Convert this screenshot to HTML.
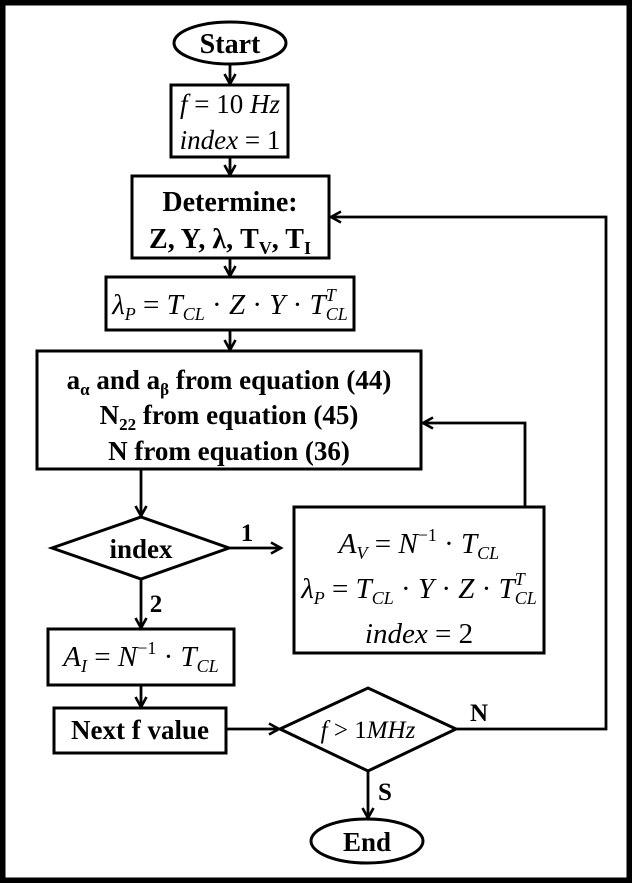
<!DOCTYPE html>
<html><head><meta charset="utf-8"><style>
html,body{margin:0;padding:0;background:#fff}
svg{display:block}
text{font-family:"Liberation Serif",serif;fill:#000}
.b{font-weight:bold}
.i{font-style:italic}
</style></head><body>
<svg width="632" height="883" viewBox="0 0 632 883" xmlns="http://www.w3.org/2000/svg">
<defs><marker id="a" markerWidth="14" markerHeight="14" refX="11" refY="7" orient="auto" markerUnits="userSpaceOnUse"><path d="M1,1.5 L11,7 L1,12.5" fill="none" stroke="#000" stroke-width="2.6"/></marker></defs>
<rect x="2.5" y="2.5" width="627" height="878" fill="#fff" stroke="#000" stroke-width="6"/>
<g fill="none" stroke="#000" stroke-width="3">
<ellipse cx="230" cy="43" rx="56" ry="21"/>
<rect x="171" y="85" width="117" height="72"/>
<rect x="132" y="176" width="197" height="82"/>
<rect x="106" y="277" width="248" height="53"/>
<rect x="37" y="351" width="384" height="118"/>
<polygon points="52,548 141,517 229,548 141,579"/>
<rect x="294" y="507" width="250" height="146"/>
<rect x="48" y="629" width="186" height="56"/>
<rect x="54" y="708" width="172" height="45"/>
<polygon points="280,729 368,688 456,729 368,771"/>
<ellipse cx="367" cy="841" rx="56" ry="22"/>
</g>
<g fill="none" stroke="#000" stroke-width="2.8">
<line x1="230" y1="64" x2="230" y2="84" marker-end="url(#a)"/>
<line x1="230" y1="157" x2="230" y2="175" marker-end="url(#a)"/>
<line x1="230" y1="258" x2="230" y2="276" marker-end="url(#a)"/>
<line x1="230" y1="330" x2="230" y2="350" marker-end="url(#a)"/>
<line x1="141" y1="469" x2="141" y2="516" marker-end="url(#a)"/>
<line x1="229" y1="548" x2="281" y2="548" marker-end="url(#a)"/>
<line x1="141" y1="579" x2="141" y2="628" marker-end="url(#a)"/>
<line x1="141" y1="685" x2="141" y2="707" marker-end="url(#a)"/>
<line x1="226" y1="729" x2="279" y2="729" marker-end="url(#a)"/>
<line x1="368" y1="771" x2="368" y2="818" marker-end="url(#a)"/>
<polyline points="456,729 606,729 606,217 331,217" marker-end="url(#a)"/>
<polyline points="525,507 525,423 423,423" marker-end="url(#a)"/>
</g>
<text class="b" x="230" y="53" font-size="28" text-anchor="middle">Start</text>
<text class="i" x="230" y="113" font-size="27" text-anchor="middle">f <tspan font-style="normal">= 10</tspan> Hz</text>
<text class="i" x="230" y="149" font-size="27" text-anchor="middle">index <tspan font-style="normal">= 1</tspan></text>
<text class="b" x="230" y="211" font-size="28" text-anchor="middle">Determine:</text>
<text class="b" x="230" y="248" font-size="28" text-anchor="middle">Z, Y, λ, T<tspan font-size="18" dy="6">V</tspan><tspan dy="-6">, T</tspan><tspan font-size="18" dy="6">I</tspan></text>
<text class="i" x="230" y="314" font-size="29" text-anchor="middle">λ<tspan font-size="18" dy="6">P</tspan><tspan dy="-6" font-style="normal"> = </tspan>T<tspan font-size="18" dy="6">CL</tspan><tspan dy="-6" font-style="normal"> · </tspan>Z<tspan font-style="normal"> · </tspan>Y<tspan font-style="normal"> · </tspan>T<tspan font-size="18" dy="-13">T</tspan><tspan font-size="18" dx="-10" dy="19">CL</tspan></text>
<text class="b" x="229" y="389" font-size="27" text-anchor="middle">a<tspan font-size="17" dy="6">α</tspan><tspan dy="-6"> and a</tspan><tspan font-size="17" dy="6">β</tspan><tspan dy="-6"> from equation (44)</tspan></text>
<text class="b" x="229" y="424" font-size="27" text-anchor="middle">N<tspan font-size="17" dy="6">22</tspan><tspan dy="-6"> from equation (45)</tspan></text>
<text class="b" x="229" y="460" font-size="27" text-anchor="middle">N from equation (36)</text>
<text class="b" x="141" y="558" font-size="27" text-anchor="middle">index</text>
<text class="b" x="247" y="541" font-size="25" text-anchor="middle">1</text>
<text class="b" x="156" y="612" font-size="25" text-anchor="middle">2</text>
<text class="i" x="419" y="553" font-size="29" text-anchor="middle">A<tspan font-size="18" dy="6">V</tspan><tspan dy="-6" font-style="normal"> = </tspan>N<tspan font-size="18" dy="-12" font-style="normal">−1</tspan><tspan dy="12" font-style="normal"> · </tspan>T<tspan font-size="18" dy="6">CL</tspan></text>
<text class="i" x="419" y="598" font-size="29" text-anchor="middle">λ<tspan font-size="18" dy="6">P</tspan><tspan dy="-6" font-style="normal"> = </tspan>T<tspan font-size="18" dy="6">CL</tspan><tspan dy="-6" font-style="normal"> · </tspan>Y<tspan font-style="normal"> · </tspan>Z<tspan font-style="normal"> · </tspan>T<tspan font-size="18" dy="-13">T</tspan><tspan font-size="18" dx="-10" dy="19">CL</tspan></text>
<text class="i" x="419" y="643" font-size="29" text-anchor="middle">index <tspan font-style="normal">= 2</tspan></text>
<text class="i" x="141" y="666" font-size="29" text-anchor="middle">A<tspan font-size="18" dy="6">I</tspan><tspan dy="-6" font-style="normal"> = </tspan>N<tspan font-size="18" dy="-12" font-style="normal">−1</tspan><tspan dy="12" font-style="normal"> · </tspan>T<tspan font-size="18" dy="6">CL</tspan></text>
<text class="b" x="140" y="739" font-size="27" text-anchor="middle">Next f value</text>
<text class="i" x="368" y="738" font-size="25" text-anchor="middle">f <tspan font-style="normal">&gt; 1</tspan>MHz</text>
<text class="b" x="479" y="721" font-size="25" text-anchor="middle">N</text>
<text class="b" x="385" y="800" font-size="25" text-anchor="middle">S</text>
<text class="b" x="367" y="851" font-size="27" text-anchor="middle">End</text>
</svg>
</body></html>
